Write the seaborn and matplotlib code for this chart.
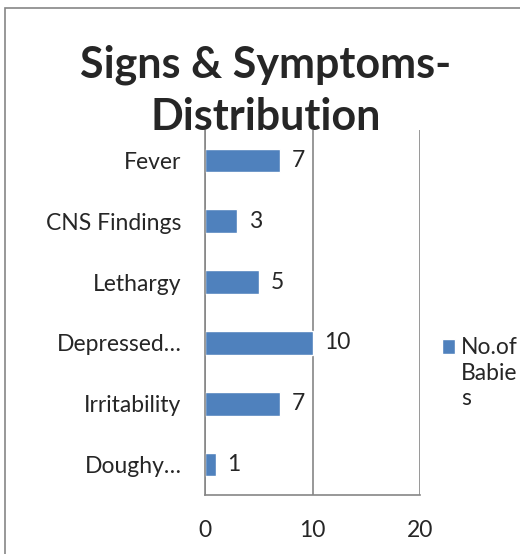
import matplotlib
matplotlib.use("Agg")
import matplotlib.pyplot as plt
import seaborn as sns
import pandas as pd
from matplotlib.patches import Rectangle

symptoms = ["Fever", "CNS Findings", "Lethargy", "Depressed…", "Irritability", "Doughy…"]
babies = [7, 3, 5, 10, 7, 1]
x_ticks = [0, 10, 20]

df = pd.DataFrame({"symptom": symptoms, "babies": babies})

sns.set_style("white")
plt.rcParams["font.family"] = ["Lato", "DejaVu Sans"]

grey = "#868686"
blue = "#4F81BD"
fs = 16.5

fig = plt.figure(figsize=(5.2, 5.54), dpi=100)
ax = fig.add_axes([205 / 520, 1 - 495 / 554, 215 / 520, 365 / 554])

sns.barplot(data=df, x="babies", y="symptom", color=blue, width=0.39,
            saturation=1, ax=ax, label="No.of")

ax.set_xlim(0, 20)
ax.set_ylim(len(symptoms) - 0.5, -0.5)
ax.set_xticks(x_ticks)
ax.set_xlabel("")
ax.set_ylabel("")
ax.grid(axis="x", color=grey, linewidth=1.2)
ax.set_axisbelow(True)

for s in ["top", "right"]:
    ax.spines[s].set_visible(False)
for s in ["left", "bottom"]:
    ax.spines[s].set_color(grey)
    ax.spines[s].set_linewidth(1.2)

ax.tick_params(axis="y", length=0, labelsize=fs, pad=17)
ax.set_yticks([i - 0.5 for i in range(len(symptoms) + 1)], minor=True)
ax.tick_params(axis="y", which="minor", length=7, color=grey, width=1.2)
ax.tick_params(axis="x", length=6, color=grey, width=1.2, labelsize=fs, pad=12)

for i, v in enumerate(babies):
    ax.text(v + 1.1, i, str(v), va="center", ha="left", fontsize=fs)

leg = ax.legend(loc="upper left", bbox_to_anchor=(1.10, 0.432), frameon=False,
                fontsize=fs, handlelength=0.6, handleheight=0.6,
                handletextpad=0.25, borderaxespad=0, borderpad=0)

# the legend label wraps onto extra lines below the first one
fig.canvas.draw()
bb = leg.get_texts()[0].get_window_extent().transformed(fig.transFigure.inverted())
fig.text(bb.x0, bb.y0 - 0.008, "Babie\ns", ha="left", va="top",
         fontsize=fs, linespacing=1.25)

fig.text(0.51, 0.836, "Signs & Symptoms-\nDistribution", ha="center", va="center",
         fontsize=31, fontweight="bold", linespacing=1.35)

fig.patches.append(Rectangle((5 / 520, -0.1), 1.2, 1 - 8 / 554 + 0.1,
                             transform=fig.transFigure, fill=False,
                             edgecolor=grey, linewidth=1.2))

fig.savefig("out.png", dpi=100)
